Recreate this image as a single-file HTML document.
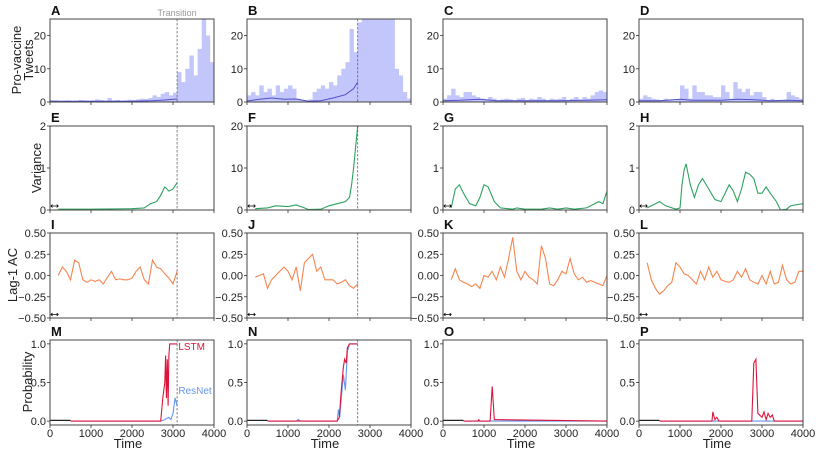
<!DOCTYPE html>
<html><head><meta charset="utf-8">
<style>
body{margin:0;background:#fff;}
svg{display:block;font-family:"Liberation Sans","DejaVu Sans",sans-serif;}
</style></head>
<body>
<svg id="fig" width="823" height="455" viewBox="0 0 823 455"></svg>
<script>
// ---------- data ----------
const timeTicks=[0,1000,2000,3000,4000];
const transitions=[3100,2700,null,null];
// Row 1: tweets per 100-step bin (t = 0..3900)
const tweetsA=[0.5,0.5,0.3,0.4,0.5,0.3,0.4,0.6,0.5,0.4,0.5,0.8,0.6,0.4,1.2,0.5,0.6,0.4,0.5,0.7,0.6,0.8,1,0.9,1.2,2,1.5,2.5,3,2,2.8,9,6,10,14,8,16,25,20,12];
const tweetsB=[2,3,2,5,3,4,2,5,3,4,5,4,1,0.5,0.5,0.8,3,4,5,4,6,5,8,10,12,22,15,24,30,30,30,30,30,30,30,30,10,8,3,1];
const tweetsC=[1,2,4,2,1.5,3,3,2,1.5,1,0.8,1.5,1,0.5,0.8,1,0.8,0.5,1,1.2,0.5,1,0.8,1.5,1,0.5,1,0.8,1,1.5,0.5,1,1.5,0.8,1.5,1,2,3,3.5,3];
const tweetsD=[1,2,1.5,1,0.8,0.5,1,0.5,0.5,0.8,5,4,1,5,3,3,2,2,1.5,1.5,5,3,1,6,4,3,4,2,3,3,1.5,0.5,1,0.5,0.5,0.5,3,2,1.5,1];
const smoothTA=[0,500,1000,1500,2000,2500,2800,3100];
const smoothA=[0.2,0.2,0.2,0.2,0.25,0.35,0.6,0.9];
const smoothTB=[0,300,600,900,1200,1500,1800,2100,2400,2600,2700];
const smoothB=[0.3,0.8,1.2,0.8,0.9,0.2,0.4,1.2,2.2,4,6];
const smoothTC=[0,400,900,1300,2000,2800,3500,4000];
const smoothC=[0.4,0.5,0.8,0.4,0.4,0.4,0.5,0.7];
const smoothTD=[0,500,1000,1300,2000,2400,2800,3200,3600,4000];
const smoothD=[0.4,0.4,0.8,0.5,0.5,0.8,0.7,0.4,0.5,0.4];
// Row 2: variance
const varTE=[200,1000,2000,2300,2450,2600,2700,2800,2900,3000,3100];
const varE=[0.02,0.02,0.03,0.05,0.15,0.2,0.35,0.55,0.45,0.5,0.65];
const varTF=[200,500,700,1000,1200,1400,1500,1800,2000,2200,2400,2500,2550,2600,2650,2700];
const varF=[0.3,0.5,1,0.8,1.2,0.5,0.1,0.2,1,1.5,2,3,6,10,15,20];
const varTG=[200,300,400,500,650,800,900,1000,1100,1250,1400,1700,1800,2000,2400,2600,2800,3000,3200,3500,3700,3800,3900,4000];
const varG=[0.05,0.5,0.6,0.4,0.15,0.1,0.3,0.6,0.55,0.2,0.05,0.02,0.05,0.02,0.02,0.05,0.02,0.05,0.02,0.05,0.15,0.2,0.15,0.45];
const varTH=[200,500,650,900,1000,1050,1100,1150,1250,1350,1450,1550,1700,1850,2000,2100,2200,2300,2400,2500,2600,2700,2800,2900,3000,3100,3200,3350,3450,3600,3700,3800,4000];
const varH=[0.05,0.2,0.1,0.02,0.05,0.6,0.95,1.1,0.6,0.3,0.6,0.75,0.5,0.25,0.2,0.4,0.6,0.45,0.2,0.5,0.9,0.85,0.75,0.4,0.4,0.55,0.4,0.2,0.0,0.02,0.1,0.12,0.15];
// Row 3: lag-1 autocorrelation (t = 200 + 100*i)
const acI=[0,0.1,0.05,-0.05,0.18,0.15,-0.05,-0.08,-0.05,-0.07,-0.05,-0.1,-0.02,0.05,-0.05,-0.04,-0.05,-0.05,-0.03,0.05,0.1,-0.05,-0.1,0.18,0.1,0.08,0.02,-0.03,-0.1,0.05];
const acJ=[-0.02,0,0.02,-0.15,-0.05,0,0.05,0.1,0.05,-0.05,0.1,-0.18,0.15,0.2,0.25,0.05,0.1,-0.05,-0.05,-0.05,-0.1,-0.08,-0.05,-0.12,-0.15,-0.1];
const acK=[-0.05,0.08,-0.05,-0.08,-0.1,-0.13,-0.1,-0.15,0,-0.02,0.05,-0.05,0.1,-0.02,0.2,0.45,0.05,-0.05,0.05,-0.02,-0.05,-0.1,0.35,0.2,-0.1,-0.12,-0.05,0.05,0.02,0.2,0.02,-0.05,-0.02,-0.08,-0.06,-0.08,-0.1,-0.12,0];
const acL=[0.15,-0.05,-0.15,-0.22,-0.18,-0.12,-0.08,0.15,0.1,0.02,0,-0.05,-0.1,0.05,-0.05,0.1,-0.02,0.05,-0.05,-0.07,-0.08,-0.05,0.05,-0.02,0.08,-0.05,-0.08,-0.1,0,-0.1,0.05,-0.1,-0.08,0.12,-0.05,-0.1,-0.08,0.05,0.05];
// Row 4: probabilities
const lstmTM=[500,2700,2750,2800,2820,2840,2860,2880,2900,2920,3100];
const lstmM=[0,0,0.3,0.5,0.85,0.3,0.8,0.2,0.85,1,1];
const resTM=[500,2700,2800,2900,2950,3000,3050,3100];
const resM=[0,0,0.02,0.05,0.02,0.1,0.3,0.2];
const lstmTN=[500,2200,2250,2300,2350,2380,2420,2450,2500,2700];
const lstmN=[0,0,0.05,0.4,0.7,0.8,0.75,0.95,1,1];
const resTN=[500,1200,1250,1300,2200,2230,2260,2300,2350,2400,2450,2500,2700];
const resN=[0,0,0.02,0,0,0.15,0.05,0.3,0.6,0.4,0.9,1,1];
const lstmTO=[500,850,870,900,1150,1200,1250,4000];
const lstmO=[0,0,0.02,0,0,0.45,0.02,0];
const resTO=[500,4000];
const resO=[0,0];
const lstmTP=[500,1780,1800,1850,1900,1950,2750,2800,2850,2900,3000,3050,3100,3150,3200,3250,3300,4000];
const lstmP=[0,0,0.12,0.02,0.05,0,0,0.75,0.8,0.1,0.05,0.12,0.02,0.1,0.05,0.08,0,0];
const resTP=[500,4000];
const resP=[0,0];

// ---------- layout ----------
const NS="http://www.w3.org/2000/svg";
const svg=document.getElementById('fig');
const colX=[50,247,443,639], W=164;
const rows=[{top:19,bot:102,y0:0,y1:25},{top:126,bot:210,y0:0,y1:2},{top:233,bot:318,y0:-0.5,y1:0.5},{top:340,bot:425,y0:-0.05,y1:1.05}];
function el(tag,attrs,parent){const e=document.createElementNS(NS,tag);for(const k in attrs)e.setAttribute(k,attrs[k]);(parent||svg).appendChild(e);return e;}
function xs(c,t){return colX[c]+t/4000*W;}
function ys(r,v,ymax){const R=rows[r];const y1=ymax!==undefined?ymax:R.y1;return R.bot-(v-R.y0)/(y1-R.y0)*(R.bot-R.top);}
function linePath(c,r,ts,vs,ymax){return ts.map((t,i)=>(i?'L':'M')+xs(c,t).toFixed(1)+','+ys(r,Math.min(vs[i],ymax!==undefined?ymax:rows[r].y1),ymax).toFixed(1)).join('');}
function txt(x,y,s,attrs,name){const t=el('text',Object.assign({x:x,y:y},attrs));t.textContent=s;return t;}

const letters="ABCDEFGHIJKLMNOP";
const tweets=[tweetsA,tweetsB,tweetsC,tweetsD];
const sT=[smoothTA,smoothTB,smoothTC,smoothTD], sV=[smoothA,smoothB,smoothC,smoothD];
const vT=[varTE,varTF,varTG,varTH], vV=[varE,varF,varG,varH];
const acs=[acI,acJ,acK,acL];
const lT=[lstmTM,lstmTN,lstmTO,lstmTP], lV=[lstmM,lstmN,lstmO,lstmP];
const rT=[resTM,resTN,resTO,resTP], rV=[resM,resN,resO,resP];

for(let r=0;r<4;r++){for(let c=0;c<4;c++){
  const R=rows[r]; const g=el('g',{});
  
  
  const ymax=(r===1&&c===1)?20:R.y1;
  const cid='clip'+r+c;
  const cp=el('clipPath',{id:cid},g); el('rect',{x:colX[c],y:R.top,width:W,height:R.bot-R.top},cp);
  const data=el('g',{'clip-path':'url(#'+cid+')'},g);
  if(r===0){
    tweets[c].forEach((v,i)=>{
      const b=el('rect',{x:xs(c,i*100),y:ys(0,Math.min(v,25)),width:W/40+0.3,height:ys(0,0)-ys(0,Math.min(v,25)),fill:'#c3c6fb'},data);
      
      
    });
    const p=el('path',{d:linePath(c,0,sT[c],sV[c]),fill:'none',stroke:'#5050c8','stroke-width':1},data);
    
    
  } else if(r===1){
    const p=el('path',{d:linePath(c,1,vT[c],vV[c],ymax),fill:'none',stroke:'#2ca25f','stroke-width':1.1},data);
    
    
  } else if(r===2){
    const ts=acs[c].map((v,i)=>200+i*100);
    const p=el('path',{d:linePath(c,2,ts,acs[c]),fill:'none',stroke:'#f7844f','stroke-width':1.1},data);
    
    
  } else {
    const k=el('path',{d:'M'+xs(c,0)+','+ys(3,0.01)+'L'+xs(c,500)+','+ys(3,0.01),stroke:'#222','stroke-width':1.2},data);
    
    
    const b=el('path',{d:linePath(c,3,rT[c],rV[c]),fill:'none',stroke:'#6495ed','stroke-width':1.1},data);
    
    
    const l=el('path',{d:linePath(c,3,lT[c],lV[c]),fill:'none',stroke:'#dc143c','stroke-width':1.1},data);
    
    
  }
  if((r===1||r===2)){
    const yy=r===1?R.bot-4:R.bot-3.5;
    const a=el('path',{d:`M${xs(c,0)+1},${yy}L${xs(c,200)},${yy}M${xs(c,0)+2.5},${yy-1.5}L${xs(c,0)+1},${yy}L${xs(c,0)+2.5},${yy+1.5}M${xs(c,200)-1.5},${yy-1.5}L${xs(c,200)},${yy}L${xs(c,200)-1.5},${yy+1.5}`,stroke:'#000','stroke-width':0.8,fill:'none'},g);
    
    
  }
  if(transitions[c]!==null){
    const d=el('line',{x1:xs(c,transitions[c]),x2:xs(c,transitions[c]),y1:R.top,y2:R.bot,stroke:'#666','stroke-width':0.8,'stroke-dasharray':'2.5,1.5'},g);
    
    
  }
  el('rect',{x:colX[c],y:R.top,width:W,height:R.bot-R.top,fill:'none',stroke:'#444','stroke-width':1},g);
  timeTicks.forEach(t=>{
    el('line',{x1:xs(c,t),x2:xs(c,t),y1:R.bot,y2:R.bot+3,stroke:'#333','stroke-width':0.8},g);
    if(r===3) txt(xs(c,t),R.bot+12,String(t),{'font-size':11,'text-anchor':'middle',fill:'#222'},'x-tick-label');
  });
  let yt;
  if(r===0) yt=[[0,'0'],[10,'10'],[20,'20']];
  else if(r===1) yt=c===1?[[0,'0'],[10,'10'],[20,'20']]:[[0,'0'],[1,'1'],[2,'2']];
  else if(r===2) yt=[[-0.5,'\u22120.50'],[-0.25,'\u22120.25'],[0,'0.00'],[0.25,'0.25'],[0.5,'0.50']];
  else yt=[[0,'0.0'],[0.5,'0.5'],[1,'1.0']];
  yt.forEach(([v,s])=>{
    const y=ys(r,v,ymax);
    el('line',{x1:colX[c]-3,x2:colX[c],y1:y,y2:y,stroke:'#333','stroke-width':0.8},g);
    txt(colX[c]-4,y+4,s,{'font-size':11,'text-anchor':'end',fill:'#222'},'y-tick-label');
  });
  txt(colX[c]+1,R.top-4,letters[r*4+c],{'font-size':13,'font-weight':'bold',fill:'#111'},'panel-letter');
  if(r===3) txt(colX[c]+W/2-4,R.bot+23,'Time',{'font-size':13,'text-anchor':'middle',fill:'#222'},'x-axis-title');
}}
txt(xs(0,3100),16,'Transition',{'font-size':9,'text-anchor':'middle',fill:'#999'},'transition-label');
txt(xs(0,3130),ys(3,0.97)+4,'LSTM',{'font-size':10,fill:'#dc143c'},'lstm-label');
txt(xs(0,3130),ys(3,0.4)+4,'ResNet',{'font-size':10,fill:'#6495ed'},'resnet-label');
function ylab(x,y,lines,name){const t=el('text',{transform:`translate(${x},${y}) rotate(-90)`,'font-size':13,'text-anchor':'middle',fill:'#222'});
  lines.forEach((s,i)=>{const sp=el('tspan',{x:0,dy:i?12:0},t);sp.textContent=s;});}
ylab(21,60,['Pro-vaccine','Tweets'],'y-axis-title-tweets');
ylab(41,168,['Variance'],'y-axis-title-variance');
ylab(17,275,['Lag-1 AC'],'y-axis-title-ac');
ylab(32,382,['Probability'],'y-axis-title-probability');
</script>
</body></html>
